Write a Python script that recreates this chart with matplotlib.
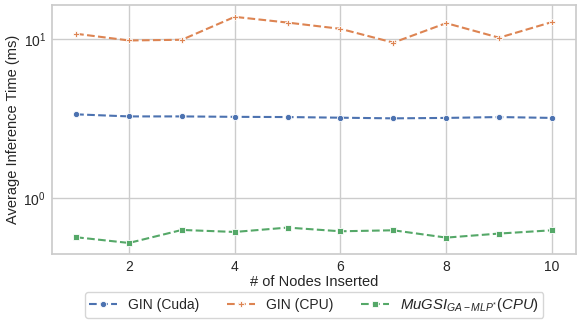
import matplotlib
matplotlib.use("Agg")
import matplotlib.pyplot as plt
import seaborn as sns

nodes = [1, 2, 3, 4, 5, 6, 7, 8, 9, 10]
gin_cuda = [3.36, 3.26, 3.26, 3.24, 3.23, 3.20, 3.17, 3.19, 3.23, 3.19]
gin_cpu = [10.8, 9.8, 9.9, 13.8, 12.7, 11.6, 9.5, 12.6, 10.2, 12.8]
mugsi_cpu = [0.566, 0.521, 0.629, 0.611, 0.651, 0.617, 0.626, 0.563, 0.597, 0.626]
labels = ["GIN (Cuda)", "GIN (CPU)", r"$MuGSI_{GA-MLP^{*}}(CPU)$"]

sns.set_theme(style="whitegrid")
plt.rcParams["font.family"] = ["Liberation Sans", "DejaVu Sans"]
plt.rcParams["mathtext.fontset"] = "custom"
plt.rcParams["mathtext.rm"] = "Liberation Sans"
plt.rcParams["mathtext.it"] = "Liberation Sans:italic"
plt.rcParams["mathtext.bf"] = "Liberation Sans:bold"

pal = sns.color_palette("deep")
fig = plt.figure(figsize=(5.81, 3.29), dpi=100)
ax = fig.add_axes([0.09, 0.228, 0.901, 0.757])

ax.plot(nodes, gin_cuda, linestyle="--", marker="o", color=pal[0], lw=1.5,
        markersize=4.5, markeredgecolor="white", markeredgewidth=0.6, label=labels[0])
ax.plot(nodes, gin_cpu, linestyle="--", marker="P", color=pal[1], lw=1.5,
        markersize=4.5, markeredgecolor="white", markeredgewidth=0.6, label=labels[1])
ax.plot(nodes, mugsi_cpu, linestyle="--", marker="s", color=pal[2], lw=1.5,
        markersize=4.5, markeredgecolor="white", markeredgewidth=0.6, label=labels[2])

ax.set_yscale("log")
ax.set_ylim(0.444, 16.4)
ax.set_xlim(0.55, 10.45)
ax.set_xticks([2, 4, 6, 8, 10])
ax.tick_params(labelsize=10, length=0, pad=4.5)
ax.minorticks_off()
ax.set_xlabel("# of Nodes Inserted", fontsize=10.5)
ax.set_ylabel("Average Inference Time (ms)", fontsize=10.5)
ax.xaxis.set_label_coords(0.5, -0.084)
ax.yaxis.set_label_coords(-0.062, 0.5)

leg = fig.legend(loc="lower center", bbox_to_anchor=(0.541, 0.012), ncol=3, fontsize=10,
                 frameon=True, columnspacing=2.0, handlelength=2.0, borderpad=0.3)
leg.get_texts()[2].set_fontsize(10.7)

fig.savefig("out.png", dpi=100)
